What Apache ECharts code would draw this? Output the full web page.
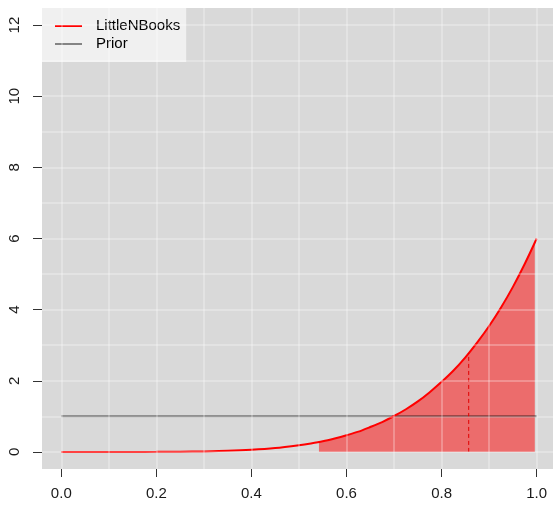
<!DOCTYPE html>
<html>
<head>
<meta charset="utf-8">
<script src="https://cdn.jsdelivr.net/npm/echarts@6/dist/echarts.min.js"></script>
<style>html,body{margin:0;padding:0;background:#fff}#c{width:553px;height:505px}</style>
</head>
<body>
<div id="c"></div>
<script>
// Posterior density curve
const curveX = [0,0.05,0.1,0.15,0.2,0.25,0.3,0.35,0.4,0.45,0.5,0.525,0.55,0.575,0.6,0.625,0.65,0.675,0.7,0.725,0.75,0.775,0.8,0.825,0.85,0.875,0.9,0.925,0.95,0.975,1.0];
const curveY = [0,0,0,0,0.002,0.006,0.015,0.03,0.06,0.11,0.19,0.24,0.30,0.38,0.47,0.57,0.70,0.84,1.01,1.20,1.42,1.68,1.97,2.29,2.66,3.08,3.54,4.06,4.64,5.29,6.0];
// Shaded credible interval
const shadeX = [0.542,0.55,0.575,0.6,0.625,0.65,0.675,0.7,0.725,0.75,0.775,0.8,0.825,0.85,0.875,0.9,0.925,0.95,0.975,0.996];
const shadeY = [0.28,0.30,0.38,0.47,0.57,0.70,0.84,1.01,1.20,1.42,1.68,1.97,2.29,2.66,3.08,3.54,4.06,4.64,5.29,5.88];
// Prior
const priorX = [0,1];
const priorY = [1,1];
// Mean marker
const meanX = 0.857;
const meanY = 2.78;
// Axis ticks and grid
const xTicks = [0,0.2,0.4,0.6,0.8,1.0];
const yTicks = [0,2,4,6,8,10,12];
const xGrid = [0,0.1,0.2,0.3,0.4,0.5,0.6,0.7,0.8,0.9,1.0];
const yGrid = [0,1,2,3,4,5,6,7,8,9,10,11,12];
const seriesNames = ['LittleNBooks','Prior'];

const zip = (a,b) => a.map((v,i)=>[v,b[i]]);
const chart = echarts.init(document.getElementById('c'), null, {renderer:'canvas'});
const font = 'Liberation Sans, Arial, Helvetica, sans-serif';
chart.setOption({
  animation:false,
  backgroundColor:'#ffffff',
  grid:{left:42, top:8, right:0, height:461, show:true, backgroundColor:'#d9d9d9', borderWidth:0},
  legend:{
    left:42, top:8, orient:'vertical',
    data:seriesNames,
    backgroundColor:'#f0f0f0',
    padding:[10.5,6,10.5,13],
    itemGap:3, itemWidth:27, itemHeight:2, icon:'rect',
    textStyle:{fontFamily:font, fontSize:15, color:'#000', lineHeight:15, padding:[0,0,0,9]}
  },
  xAxis:{
    type:'value', min:-0.0406, max:1.0343,
    axisLine:{show:false, onZero:false},
    splitLine:{show:false},
    axisTick:{show:true, customValues:xTicks, length:8, lineStyle:{color:'#333', width:1}},
    axisLabel:{customValues:xTicks, margin:17, fontFamily:font, fontSize:15, color:'#1a1a1a', formatter:v=>v.toFixed(1)}
  },
  yAxis:{
    type:'value', min:-0.48, max:12.48,
    axisLine:{show:false, onZero:false},
    splitLine:{show:false},
    axisTick:{show:true, customValues:yTicks, length:9, lineStyle:{color:'#333', width:1}},
    axisLabel:{customValues:yTicks, rotate:90, margin:20, fontFamily:font, fontSize:15, color:'#1a1a1a', formatter:v=>String(v)}
  },
  series:[
    {
      name:'shade', type:'line', data:zip(shadeX,shadeY), smooth:0.3,
      showSymbol:false, lineStyle:{width:0}, areaStyle:{color:'rgba(255,0,0,0.5)', opacity:1},
      itemStyle:{color:'rgba(255,0,0,0.5)'}, z:1, silent:true
    },
    {
      name:'grid', type:'line', data:[], z:2, silent:true,
      markLine:{
        silent:true, symbol:'none', label:{show:false}, animation:false,
        lineStyle:{color:'rgba(255,255,255,0.35)', width:1.5, type:'solid'},
        data:[...xGrid.map(v=>({xAxis:v})), ...yGrid.map(v=>({yAxis:v}))]
      }
    },
    {
      name:'Prior', type:'line', data:zip(priorX,priorY), showSymbol:false,
      lineStyle:{color:'rgba(0,0,0,0.45)', width:2}, itemStyle:{color:'rgba(0,0,0,0.45)'}, z:3
    },
    {
      name:'LittleNBooks', type:'line', data:zip(curveX,curveY), smooth:0.3, showSymbol:false,
      lineStyle:{color:'#ff0000', width:2}, itemStyle:{color:'#ff0000'}, z:4
    },
    {
      name:'mean', type:'line', data:[[meanX,0],[meanX,meanY]], showSymbol:false,
      lineStyle:{color:'#e00000', width:1, type:[4,3]}, z:4, silent:true
    }
  ]
});
</script>
</body>
</html>
